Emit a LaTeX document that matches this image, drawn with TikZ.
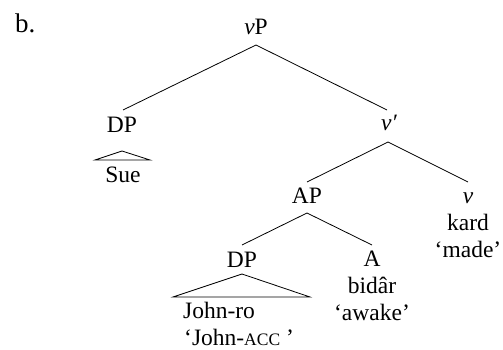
\documentclass[tikz,border=0pt]{standalone}
\usepackage{fontspec}
\setmainfont{Liberation Serif}
\begin{document}
\begin{tikzpicture}[x=1pt,y=-1pt,
  lbl/.style={inner sep=0pt,anchor=base,font=\fontsize{23.5}{27}\selectfont},
  lblw/.style={lbl,anchor=base west},
  branch/.style={line width=0.8pt,black},
  roof/.style={line width=0.8pt,black,line join=miter}]
\useasboundingbox (0,0) rectangle (503,350);

% example label
\node[lblw,font=\fontsize{27}{30}\selectfont] (ex) at (15,33) {b.};

% phrase labels
\node[lbl] (vP)  at (256,35)  {\textit{v}P};
\node[lbl] (DPa) at (122,132) {DP};
\node[lbl] (vbar) at (389,131) {\textit{v′}};
\node[lbl] (AP)  at (307,203) {AP};
\node[lbl] (v)   at (468,203) {\textit{v}};
\node[lbl] (DPb) at (242,267) {DP};
\node[lbl] (A)   at (372,266) {A};

% terminals and glosses
\node[lbl]  (sue)    at (123,182) {Sue};
\node[lbl]  (kard)   at (468,230) {kard};
\node[lbl]  (made)   at (468,257) {‘made’};
\node[lbl]  (bidar)  at (372,293) {bidâr};
\node[lbl]  (awake)  at (372,320) {‘awake’};
\node[lblw] (johnro) at (183,318) {John-ro};
\node[lblw] (johnacc) at (184,345) {‘John-{\fontsize{17.5}{20}\selectfont ACC} ’};

% branches
\draw[branch] ([yshift=-10pt]vP.base)   -- ([xshift=1pt,yshift=22pt]DPa.base);
\draw[branch] ([yshift=-10pt]vP.base)   -- ([xshift=-2pt,yshift=21pt]vbar.base);
\draw[branch] ([xshift=-1pt,yshift=-11pt]vbar.base) -- ([yshift=21pt]AP.base);
\draw[branch] ([xshift=-1pt,yshift=-11pt]vbar.base) -- ([yshift=21pt]v.base);
\draw[branch] ([yshift=-10pt]AP.base)   -- ([yshift=22pt]DPb.base);
\draw[branch] ([yshift=-10pt]AP.base)   -- ([yshift=21pt]A.base);

% triangles over unanalysed constituents
\draw[roof] ([yshift=-19pt]DPa.base) -- ++(-27,9) -- ++(55,0) -- cycle;
\draw[roof] ([yshift=-7pt]DPb.base) -- ++(-69,23) -- ++(137,0) -- cycle;
\end{tikzpicture}
\end{document}
